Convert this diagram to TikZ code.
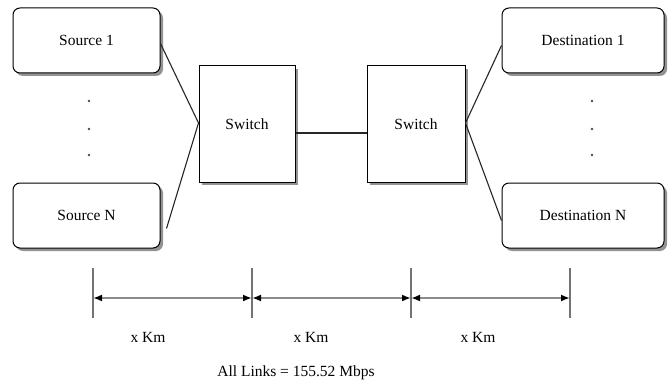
\documentclass[tikz,border=0pt]{standalone}
\usepackage{fontspec}
\setmainfont{Liberation Serif}
\usetikzlibrary{shadows,arrows.meta}
\begin{document}
\begin{tikzpicture}[x=1pt,y=-1pt,
  font=\fontsize{15.5}{18}\selectfont,
  shad/.style={drop shadow={shadow xshift=3pt,shadow yshift=-3pt,fill=gray!85,opacity=1}},
  endbox/.style={draw=black,line width=1pt,rounded corners=7pt,fill=white,shad,inner sep=0pt},
  swbox/.style={draw=black,line width=1pt,fill=white,shad,inner sep=0pt},
  link/.style={draw=black!85,line width=1.1pt},
  dotmark/.style={circle,fill=black!70,inner sep=0pt,minimum size=2.8pt},
  tick/.style={draw=black!55,line width=2pt},
  dimarrow/.style={draw=black!45,line width=2pt,{Latex[length=9pt,width=7pt,black]}-{Latex[length=9pt,width=7pt,black]}},
  lbl/.style={inner sep=0pt}]
\useasboundingbox (0,0) rectangle (668,382);
\fill[white] (0,0) rectangle (668,382);
% end boxes
\node[endbox,minimum width=147pt,minimum height=65pt] (src1) at (86.5,40.5) {Source 1};
\node[endbox,minimum width=147pt,minimum height=65pt] (srcN) at (86.5,215.5) {Source N};
\node[endbox,minimum width=162pt,minimum height=65pt] (dst1) at (583,40.5) {Destination 1};
\node[endbox,minimum width=162pt,minimum height=65pt] (dstN) at (583,215.5) {Destination N};
% switches
\node[swbox,minimum width=96pt,minimum height=116pt] (sw1) at (247,124) {Switch};
\node[swbox,minimum width=98pt,minimum height=116pt] (sw2) at (416,124) {Switch};
% dots
\node[dotmark] (sd1) at (89,101) {};
\node[dotmark] (sd2) at (89,129) {};
\node[dotmark] (sd3) at (89,155) {};
\node[dotmark] (dd1) at (592,101) {};
\node[dotmark] (dd2) at (592,129) {};
\node[dotmark] (dd3) at (592,155) {};
% links
\draw[link] ([yshift=-3pt]src1.east) -- ([yshift=1pt]sw1.west) -- ([xshift=6pt,yshift=-13pt]srcN.east);
\draw[link] ([yshift=-9pt]sw1.east) -- ([yshift=-9pt]sw2.west);
\draw[link] ([yshift=-5pt]dst1.west) -- ([yshift=1pt]sw2.east) -- ([yshift=-5pt]dstN.west);
% dimension ticks
\coordinate (t1a) at (93,268);  \coordinate (t1b) at (93,318);
\coordinate (t2a) at (252,268); \coordinate (t2b) at (252,318);
\coordinate (t3a) at (411,268); \coordinate (t3b) at (411,318);
\coordinate (t4a) at (570,268); \coordinate (t4b) at (570,318);
\draw[tick] (t1a) -- (t1b);
\draw[tick] (t2a) -- (t2b);
\draw[tick] (t3a) -- (t3b);
\draw[tick] (t4a) -- (t4b);
\coordinate (m1) at (93,298);
\coordinate (m2) at (252,298);
\coordinate (m3) at (411,298);
\coordinate (m4) at (570,298);
\draw[dimarrow] (m1) -- (m2);
\draw[dimarrow] (m2) -- (m3);
\draw[dimarrow] (m3) -- (m4);
% labels
\node[lbl] (k1) at (148,337) {x Km};
\node[lbl] (k2) at (311,337) {x Km};
\node[lbl] (k3) at (478,337) {x Km};
\node[lbl] (all) at (296,373) {All Links = 155.52 Mbps};
\end{tikzpicture}
\end{document}
